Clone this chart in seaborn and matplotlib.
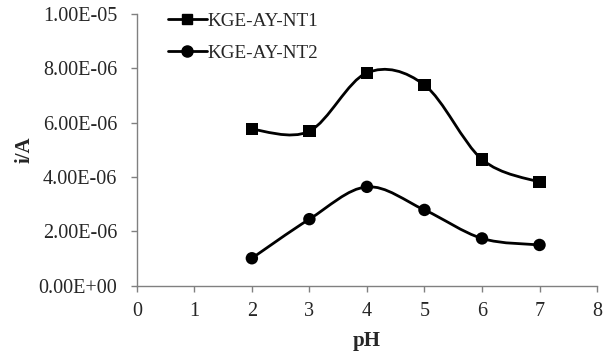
import numpy as np
import pandas as pd
import matplotlib
matplotlib.use("Agg")
import matplotlib.pyplot as plt
import seaborn as sns
from matplotlib.path import Path
from matplotlib.patches import PathPatch
from matplotlib.lines import Line2D
from matplotlib.ticker import FuncFormatter

# Données
ph = [2, 3, 4, 5, 6, 7]
nt1 = [5.76e-6, 5.69e-6, 7.84e-6, 7.39e-6, 4.65e-6, 3.81e-6]
nt2 = [1.01e-6, 2.45e-6, 3.64e-6, 2.79e-6, 1.74e-6, 1.50e-6]
series_names = ["KGE-AY-NT1", "KGE-AY-NT2"]
x_ticks = [0, 1, 2, 3, 4, 5, 6, 7, 8]
y_ticks = [0, 2e-6, 4e-6, 6e-6, 8e-6, 1e-5]


def smooth_path(x, y):
    # courbe lissée type Excel (Bezier de Catmull-Rom)
    p = np.column_stack([x, y]).astype(float)
    ext = np.vstack([p[0], p, p[-1]])
    verts = [p[0]]
    codes = [Path.MOVETO]
    for i in range(len(p) - 1):
        p0, p1, p2, p3 = ext[i], ext[i + 1], ext[i + 2], ext[i + 3]
        c1 = p1 + (p2 - p0) / 6
        c2 = p2 - (p3 - p1) / 6
        verts += [c1, c2, p2]
        codes += [Path.CURVE4] * 3
    return Path(verts, codes)


def main():
    df = pd.DataFrame({
        "pH": ph * 2,
        "i": nt1 + nt2,
        "serie": [series_names[0]] * len(ph) + [series_names[1]] * len(ph),
    })

    sns.set_theme(style="white")
    plt.rcParams["font.family"] = ["Liberation Serif", "DejaVu Serif"]

    fig = plt.figure(figsize=(6.08, 3.54), dpi=100)
    ax = fig.add_axes([0.225, 0.193, 0.757, 0.767])

    for name, yv in zip(series_names, [nt1, nt2]):
        ax.add_patch(PathPatch(smooth_path(ph, yv), facecolor="none",
                               edgecolor="black", lw=2.0, zorder=2))

    sns.scatterplot(data=df, x="pH", y="i", style="serie",
                    markers={series_names[0]: "s", series_names[1]: "o"},
                    color="black", s=80, edgecolor="black", linewidth=0,
                    legend=False, ax=ax, zorder=3)

    ax.set_xlim(0, 8)
    ax.set_ylim(0, 1e-5)
    ax.set_xticks(x_ticks)
    ax.set_yticks(y_ticks)
    ax.yaxis.set_major_formatter(FuncFormatter(
        lambda v, _: "0.00E+00" if v == 0 else f"{v:.2E}"))
    ax.tick_params(axis="both", direction="out", length=4, width=1,
                   color="#808080", labelsize=14.5, bottom=True, left=True)
    ax.tick_params(axis="y", pad=10)
    ax.tick_params(axis="x", pad=8)
    for s in ["top", "right"]:
        ax.spines[s].set_visible(False)
    for s in ["left", "bottom"]:
        ax.spines[s].set_color("#808080")
        ax.spines[s].set_linewidth(1)

    ax.set_xlabel("pH", fontsize=15, fontweight="bold", labelpad=7)
    ax.set_ylabel("i/A", fontsize=15, fontweight="bold", labelpad=3)

    handles = [
        Line2D([], [], color="black", lw=2.0, marker="s", markersize=7),
        Line2D([], [], color="black", lw=2.0, marker="o", markersize=8),
    ]
    ax.legend(handles, series_names, loc="upper left",
              bbox_to_anchor=(0.031, 1.07), frameon=False, fontsize=13.8,
              handlelength=2.0, handletextpad=0.02, labelspacing=0.75)

    fig.savefig("out.png", dpi=100)
    plt.close(fig)


if __name__ == "__main__":
    main()
